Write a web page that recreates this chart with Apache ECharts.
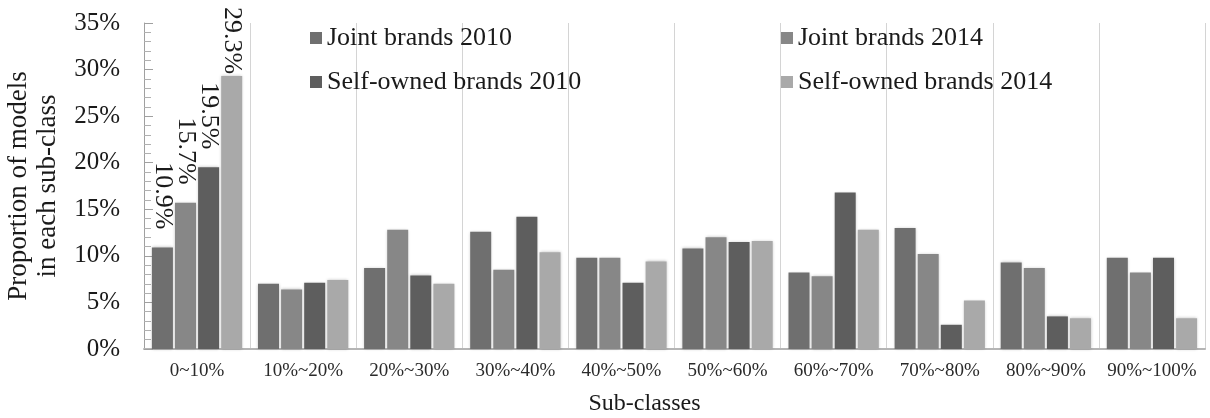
<!DOCTYPE html>
<html>
<head>
<meta charset="utf-8">
<title>Proportion of models in each sub-class</title>
<script src="https://cdn.jsdelivr.net/npm/echarts@6/dist/echarts.min.js"></script>
<style>
  html, body { margin: 0; padding: 0; background: #fff; }
  #chart { width: 1210px; height: 418px; }
</style>
</head>
<body>
<div id="chart"></div>
<script>
// sub-classes on the x axis
var subClasses = ['0~10%', '10%~20%', '20%~30%', '30%~40%', '40%~50%',
                  '50%~60%', '60%~70%', '70%~80%', '80%~90%', '90%~100%'];

// proportions (%)
var joint2010 = [10.9, 7.0, 8.7, 12.6, 9.8, 10.8, 8.2, 13.0, 9.3, 9.8];
var joint2014 = [15.7, 6.4, 12.8, 8.5, 9.8, 12.0, 7.8, 10.2, 8.7, 8.2];
var self2010  = [19.5, 7.1, 7.9, 14.2, 7.1, 11.5, 16.8, 2.6, 3.5, 9.8];
var self2014  = [29.3, 7.4, 7.0, 10.4, 9.4, 11.6, 12.8, 5.2, 3.3, 3.3];

var seriesNames = ['Joint brands 2010', 'Joint brands 2014', 'Self-owned brands 2010', 'Self-owned brands 2014'];
var seriesColors = ['#6f6f6f', '#878787', '#5e5e5e', '#a9a9a9'];
var labelGaps = [18, 18, 18, 2];

var FONT = '"Liberation Serif", "Times New Roman", serif';

var myChart = echarts.init(document.getElementById('chart'));

function makeSeries(idx, values) {
    // only the first sub-class carries a value label
    var data = values.map(function (v, i) {
        if (i === 0) {
            return { value: v, label: { show: true, distance: labelGaps[idx] } };
        }
        return v;
    });
    return {
        name: seriesNames[idx],
        type: 'bar',
        barWidth: 21,
        barGap: '10%',
        itemStyle: {
            color: seriesColors[idx],
            shadowBlur: 3,
            shadowColor: 'rgba(0,0,0,0.25)'
        },
        label: {
            show: false,
            position: 'top',
            rotate: -90,
            align: 'right',
            verticalAlign: 'middle',
            formatter: '{c}%',
            fontFamily: FONT,
            fontSize: 26,
            color: '#1a1a1a'
        },
        data: data
    };
}

var legendText = { fontFamily: FONT, fontSize: 26, color: '#1a1a1a' };

var option = {
    animation: false,
    textStyle: { fontFamily: FONT },
    grid: { left: 144, right: 5, top: 23, bottom: 69, outerBoundsMode: 'none' },
    legend: [
        {
            data: [seriesNames[0], seriesNames[2]],
            orient: 'vertical',
            left: 305,
            top: 20,
            itemWidth: 12,
            itemHeight: 12,
            itemGap: 18,
            icon: 'rect',
            textStyle: legendText
        },
        {
            data: [seriesNames[1], seriesNames[3]],
            orient: 'vertical',
            left: 776,
            top: 20,
            itemWidth: 12,
            itemHeight: 12,
            itemGap: 18,
            icon: 'rect',
            textStyle: legendText
        }
    ],
    xAxis: {
        type: 'category',
        data: subClasses,
        name: 'Sub-classes',
        nameLocation: 'middle',
        nameGap: 43,
        nameTextStyle: { fontFamily: FONT, fontSize: 24, color: '#1a1a1a', padding: [0, 60, 0, 0] },
        axisLine: { lineStyle: { color: '#b5b5b5', width: 2 } },
        axisTick: { show: false },
        axisLabel: { fontFamily: FONT, fontSize: 19, color: '#2a2a2a', margin: 13, interval: 0 },
        splitLine: { show: true, interval: 0, lineStyle: { color: '#d4d4d4', width: 1 } }
    },
    yAxis: {
        type: 'value',
        min: 0,
        max: 35,
        interval: 5,
        name: 'Proportion of models\nin each sub-class',
        nameLocation: 'middle',
        nameRotate: 90,
        nameGap: 82,
        nameTextStyle: { fontFamily: FONT, fontSize: 27, color: '#1a1a1a', lineHeight: 29 },
        axisLine: { show: true, lineStyle: { color: '#a0a0a0', width: 1 } },
        axisTick: { show: true, inside: true, length: 9, lineStyle: { color: '#a0a0a0' } },
        minorTick: { show: true, splitNumber: 5, length: 7, lineStyle: { color: '#b0b0b0' } },
        axisLabel: { fontFamily: FONT, fontSize: 25, color: '#1a1a1a', margin: 24, formatter: '{value}%' },
        splitLine: { show: false }
    },
    series: [
        makeSeries(0, joint2010),
        makeSeries(1, joint2014),
        makeSeries(2, self2010),
        makeSeries(3, self2014)
    ]
};

myChart.setOption(option);
</script>
</body>
</html>
